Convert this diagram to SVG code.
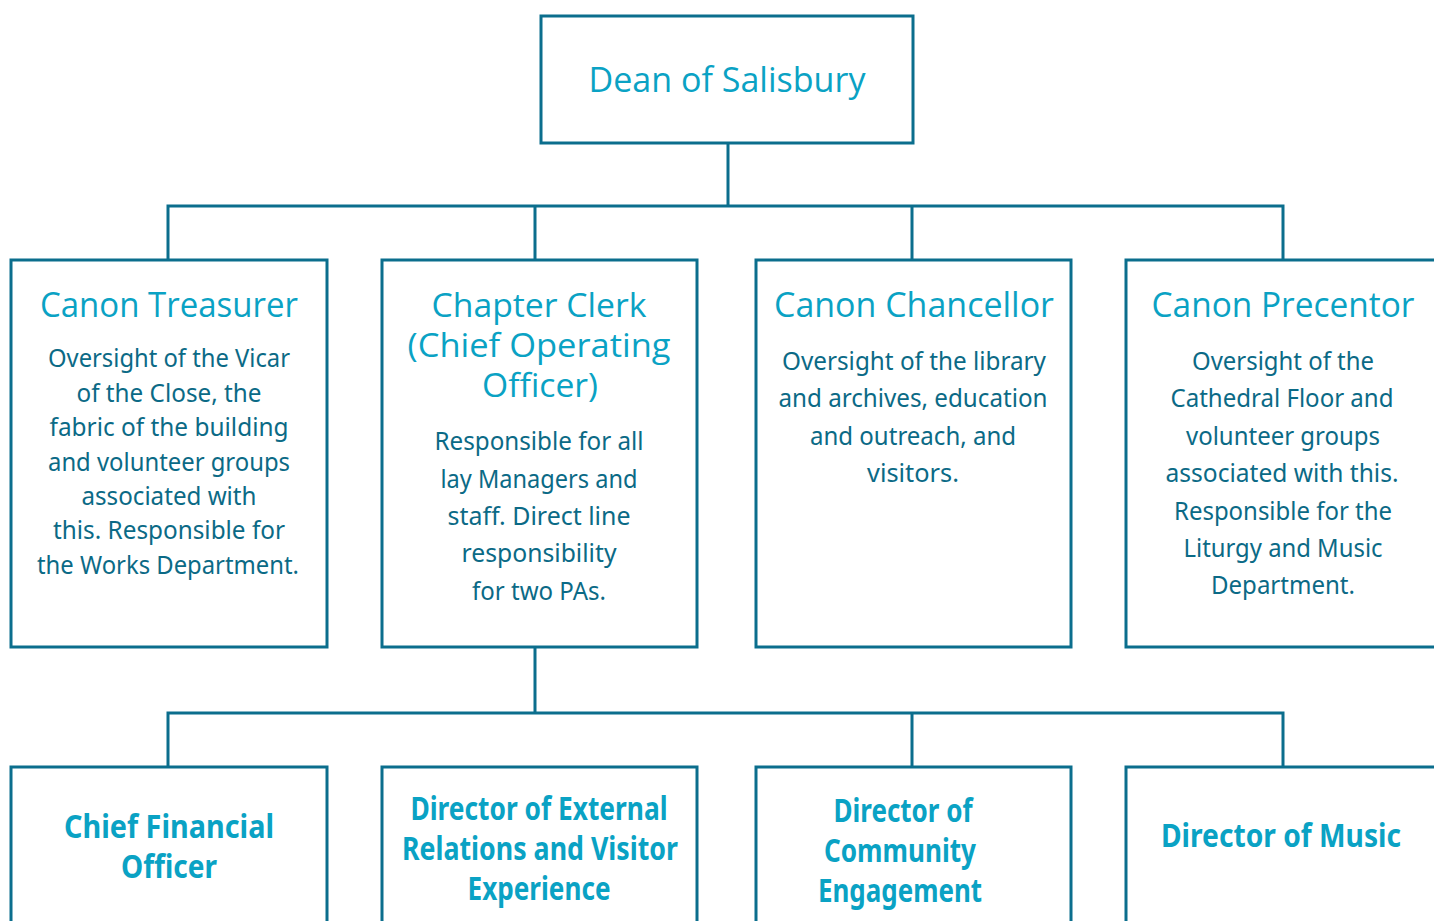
<svg xmlns="http://www.w3.org/2000/svg" width="1434" height="921" viewBox="0 0 1434 921">
<style>
.box{fill:#ffffff;stroke:#0b6e8d;stroke-width:3}
.con{fill:none;stroke:#0b6e8d;stroke-width:3}
.t{font-family:"Open Sans","Noto Sans",sans-serif;font-size:34px;fill:#0aa2c4;text-anchor:middle}
.t2{font-size:32px}
.b{font-family:"Noto Sans","Open Sans",sans-serif;font-size:25px;fill:#0b6a86;text-anchor:middle}
.h{font-family:"Noto Sans","Open Sans",sans-serif;font-size:32px;font-weight:bold;fill:#0aa2c4;text-anchor:middle}
</style>
<rect width="1434" height="921" fill="#ffffff"/>
<g id="connectors">
<path class="con" d="M728,143 V206 M168,260 V206 H1283 V260 M535,206 V260 M912,206 V260"/>
<path class="con" d="M535,647 V713 M168,767 V713 H1283 V767 M912,713 V767"/>
</g>
<g id="dean">
<rect class="box" x="541" y="16" width="372" height="127"/>
<text class="t" x="727" y="92" textLength="277" lengthAdjust="spacingAndGlyphs">Dean of Salisbury</text>
</g>
<g id="canon-treasurer">
<rect class="box" x="11" y="260" width="316" height="387"/>
<text class="t" x="169" y="317" textLength="258" lengthAdjust="spacingAndGlyphs">Canon Treasurer</text>
<text class="b" x="169" y="367" textLength="242" lengthAdjust="spacingAndGlyphs">Oversight of the Vicar</text>
<text class="b" x="169" y="402" textLength="185" lengthAdjust="spacingAndGlyphs">of the Close, the</text>
<text class="b" x="169" y="436" textLength="239" lengthAdjust="spacingAndGlyphs">fabric of the building</text>
<text class="b" x="169" y="471" textLength="242" lengthAdjust="spacingAndGlyphs">and volunteer groups</text>
<text class="b" x="169" y="505" textLength="175" lengthAdjust="spacingAndGlyphs">associated with</text>
<text class="b" x="169" y="539" textLength="232" lengthAdjust="spacingAndGlyphs">this. Responsible for</text>
<text class="b" x="168" y="574" textLength="262" lengthAdjust="spacingAndGlyphs">the Works Department.</text>
</g>
<g id="chapter-clerk">
<rect class="box" x="382" y="260" width="315" height="387"/>
<text class="t t2" x="539" y="317" textLength="215" lengthAdjust="spacingAndGlyphs">Chapter Clerk</text>
<text class="t t2" x="539" y="357" textLength="263" lengthAdjust="spacingAndGlyphs">(Chief Operating</text>
<text class="t t2" x="540" y="397" textLength="116" lengthAdjust="spacingAndGlyphs">Officer)</text>
<text class="b" x="539" y="450" textLength="209" lengthAdjust="spacingAndGlyphs">Responsible for all</text>
<text class="b" x="539" y="488" textLength="197" lengthAdjust="spacingAndGlyphs">lay Managers and</text>
<text class="b" x="539" y="525" textLength="183" lengthAdjust="spacingAndGlyphs">staff. Direct line</text>
<text class="b" x="539" y="562" textLength="155" lengthAdjust="spacingAndGlyphs">responsibility</text>
<text class="b" x="539" y="600" textLength="134" lengthAdjust="spacingAndGlyphs">for two PAs.</text>
</g>
<g id="canon-chancellor">
<rect class="box" x="756" y="260" width="315" height="387"/>
<text class="t" x="914" y="317" textLength="280" lengthAdjust="spacingAndGlyphs">Canon Chancellor</text>
<text class="b" x="914" y="370" textLength="264" lengthAdjust="spacingAndGlyphs">Oversight of the library</text>
<text class="b" x="913" y="407" textLength="269" lengthAdjust="spacingAndGlyphs">and archives, education</text>
<text class="b" x="913" y="445" textLength="206" lengthAdjust="spacingAndGlyphs">and outreach, and</text>
<text class="b" x="913" y="482" textLength="92" lengthAdjust="spacingAndGlyphs">visitors.</text>
</g>
<g id="canon-precentor">
<rect class="box" x="1126" y="260" width="320" height="387"/>
<text class="t" x="1283" y="317" textLength="263" lengthAdjust="spacingAndGlyphs">Canon Precentor</text>
<text class="b" x="1283" y="370" textLength="182" lengthAdjust="spacingAndGlyphs">Oversight of the</text>
<text class="b" x="1282" y="407" textLength="223" lengthAdjust="spacingAndGlyphs">Cathedral Floor and</text>
<text class="b" x="1283" y="445" textLength="194" lengthAdjust="spacingAndGlyphs">volunteer groups</text>
<text class="b" x="1282" y="482" textLength="233" lengthAdjust="spacingAndGlyphs">associated with this.</text>
<text class="b" x="1283" y="520" textLength="218" lengthAdjust="spacingAndGlyphs">Responsible for the</text>
<text class="b" x="1283" y="557" textLength="199" lengthAdjust="spacingAndGlyphs">Liturgy and Music</text>
<text class="b" x="1283" y="594" textLength="144" lengthAdjust="spacingAndGlyphs">Department.</text>
</g>
<g id="chief-financial-officer">
<rect class="box" x="11" y="767" width="316" height="200"/>
<text class="h" x="169" y="838" textLength="210" lengthAdjust="spacingAndGlyphs">Chief Financial</text>
<text class="h" x="169" y="878" textLength="96" lengthAdjust="spacingAndGlyphs">Officer</text>
</g>
<g id="director-external-relations">
<rect class="box" x="382" y="767" width="315" height="200"/>
<text class="h" x="539" y="820" textLength="257" lengthAdjust="spacingAndGlyphs">Director of External</text>
<text class="h" x="540" y="860" textLength="276" lengthAdjust="spacingAndGlyphs">Relations and Visitor</text>
<text class="h" x="539" y="900" textLength="143" lengthAdjust="spacingAndGlyphs">Experience</text>
</g>
<g id="director-community-engagement">
<rect class="box" x="756" y="767" width="315" height="200"/>
<text class="h" x="903" y="822" textLength="139" lengthAdjust="spacingAndGlyphs">Director of</text>
<text class="h" x="900" y="862" textLength="152" lengthAdjust="spacingAndGlyphs">Community</text>
<text class="h" x="900" y="902" textLength="164" lengthAdjust="spacingAndGlyphs">Engagement</text>
</g>
<g id="director-of-music">
<rect class="box" x="1126" y="767" width="320" height="200"/>
<text class="h" x="1281" y="847" textLength="240" lengthAdjust="spacingAndGlyphs">Director of Music</text>
</g>
</svg>
